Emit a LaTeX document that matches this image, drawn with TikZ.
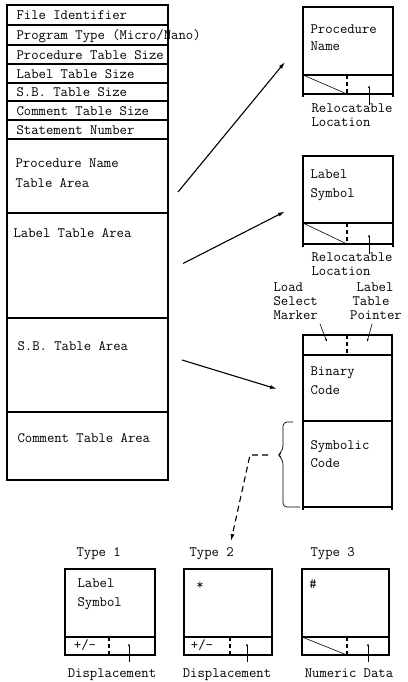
\documentclass[tikz,border=0pt]{standalone}
\usepackage{fontspec}
\usetikzlibrary{arrows.meta, calc, positioning}

\begin{document}
\begin{tikzpicture}[x=1pt, y=-1pt, line width=1.1pt, >={Latex[length=7pt,width=4pt]},
    cell/.style={draw, inner sep=0, outer sep=0, anchor=north west},
    row/.style={cell, minimum width=161pt},
    txt/.style={font=\ttfamily\fontsize{14.3}{16}\selectfont, inner sep=0, anchor=base west},
    ctxt/.style={txt, anchor=base},
    tickline/.style={dash pattern=on 4pt off 3pt},
    ptr/.style={line width=0.6pt, -{Latex[length=3pt,width=2pt]}}]

    \useasboundingbox (0,0) rectangle (407,682);

    % ================= left: file layout =================
    \node[row, minimum height=20pt] (fid) at (7,5) {};
    \node[row, minimum height=20pt, below=0pt of fid] (ptype) {};
    \node[row, minimum height=19pt, below=0pt of ptype] (pts) {};
    \node[row, minimum height=19pt, below=0pt of pts] (lts) {};
    \node[row, minimum height=18pt, below=0pt of lts] (sbts) {};
    \node[row, minimum height=19pt, below=0pt of sbts] (cts) {};
    \node[row, minimum height=19pt, below=0pt of cts] (stno) {};
    \node[row, minimum height=74pt, below=0pt of stno] (pnta) {};
    \node[row, minimum height=105pt, below=0pt of pnta] (lta) {};
    \node[row, minimum height=94pt, below=0pt of lta] (sbta) {};
    \node[row, minimum height=68pt, below=0pt of sbta] (cta) {};

    \node[txt] (fidtxt) at (16,20) {File Identifier};
    \node[txt] (ptypetxt) at (16,40) {Program Type (Micro/Nano)};
    \node[txt] (ptstxt) at (16,59.5) {Procedure Table Size};
    \node[txt] (ltstxt) at (16,78.5) {Label Table Size};
    \node[txt] (sbtstxt) at (16,97) {S.B. Table Size};
    \node[txt] (ctstxt) at (16,115.5) {Comment Table Size};
    \node[txt] (stnotxt) at (16,134.5) {Statement Number};
    \node[txt] (pntatxt) at (15,167) {Procedure Name};
    \node[txt] (pntatxtb) at (15,187) {Table Area};
    \node[txt] (ltatxt) at (13,237) {Label Table Area};
    \node[txt] (sbtatxt) at (17,350) {S.B. Table Area};
    \node[txt] (ctatxt) at (17,442) {Comment Table Area};

    % ================= procedure name entry =================
    \node[cell, minimum width=90pt, minimum height=68pt] (pname) at (303,7) {};
    \node[cell, minimum width=90pt, minimum height=19pt, below=0pt of pname] (pnloc) {};
    \draw[tickline] ([xshift=44pt]pnloc.north west) -- ([xshift=44pt]pnloc.south west);
    \draw[line width=0.6pt] (pnloc.north west) -- ([xshift=44pt]pnloc.south west);
    \draw[tickline] ([yshift=-3pt]pnloc.south west) -- ++(0,-16);
    \draw[tickline] ([yshift=-3pt]pnloc.south east) -- ++(0,-16);
    \draw[ptr] (369,105) -- (369,85);
    \node[txt] (pnametxt) at (310,34) {Procedure};
    \node[txt] (pnametxtb) at (310,51) {Name};
    \node[txt] (pnloctxt) at (311,113) {Relocatable};
    \node[txt] (pnloctxtb) at (311,127) {Location};

    % ================= label entry =================
    \node[cell, minimum width=90pt, minimum height=67pt] (lsym) at (303,156) {};
    \node[cell, minimum width=90pt, minimum height=21pt, below=0pt of lsym] (lloc) {};
    \draw[tickline] ([xshift=44pt]lloc.north west) -- ([xshift=44pt]lloc.south west);
    \draw[line width=0.6pt] (lloc.north west) -- ([xshift=44pt]lloc.south west);
    \draw[tickline] ([yshift=-3pt]lloc.south west) -- ++(0,-16);
    \draw[tickline] ([yshift=-3pt]lloc.south east) -- ++(0,-16);
    \draw[ptr] (369,254) -- (369,234);
    \node[txt] (lsymtxt) at (310,178) {Label};
    \node[txt] (lsymtxtb) at (310,197) {Symbol};
    \node[txt] (lloctxt) at (311,261) {Relocatable};
    \node[txt] (lloctxtb) at (311,275) {Location};

    % ================= S.B. entry =================
    \node[cell, minimum width=89pt, minimum height=20pt] (sbhead) at (303,335) {};
    \node[cell, minimum width=89pt, minimum height=66pt, below=0pt of sbhead] (sbbin) {};
    \node[cell, minimum width=89pt, minimum height=86pt, below=0pt of sbbin] (sbsym) {};
    \draw[tickline] ([xshift=44pt]sbhead.north west) -- ([xshift=44pt]sbhead.south west);
    \draw[tickline] ([yshift=-3pt]sbsym.south west) -- ++(0,-16);
    \draw[tickline] ([yshift=-3pt]sbsym.south east) -- ++(0,-16);
    \node[txt] (lsmtxt) at (273,291) {Load};
    \node[txt] (lsmtxtb) at (273,305) {Select};
    \node[txt] (lsmtxtc) at (273,319) {Marker};
    \node[ctxt] (ltptxt) at (375,291) {Label};
    \node[ctxt] (ltptxtb) at (371,305) {Table};
    \node[ctxt] (ltptxtc) at (376,319) {Pointer};
    \draw[ptr] (320,324) -- (327,342);
    \draw[ptr] (372,324) -- (367,342);
    \node[txt] (sbbintxt) at (310,375) {Binary};
    \node[txt] (sbbintxtb) at (310,394) {Code};
    \node[txt] (sbsymtxt) at (310,449) {Symbolic};
    \node[txt] (sbsymtxtb) at (310,467) {Code};

    % brace on symbolic code
    \draw[line width=0.7pt, rounded corners=4pt] (293,422) -- (283,422) -- (283,450) -- (278,455)
        -- (283,460) -- (283,507) -- (300,507);
    \coordinate (brtip) at (278,455);

    % ================= symbolic code types =================
    \node[txt] (t1lbl) at (76,556) {Type 1};
    \node[txt] (t2lbl) at (189,556) {Type 2};
    \node[txt] (t3lbl) at (310,556) {Type 3};
    \coordinate (t2end) at (231,541);

    % type 1
    \node[cell, minimum width=90pt, minimum height=68pt] (t1sym) at (65,569) {};
    \node[cell, minimum width=90pt, minimum height=18pt, below=0pt of t1sym] (t1disp) {};
    \draw[tickline] ([xshift=44pt]t1disp.north west) -- ([xshift=44pt]t1disp.south west);
    \node[ctxt] (t1sign) at (85,649) {+/-};
    \draw[ptr] (129,662) -- (129,643);
    \node[txt] (t1txt) at (77,587) {Label};
    \node[txt] (t1txtb) at (77,606) {Symbol};
    \node[ctxt] (t1disptxt) at (112,677) {Displacement};

    % type 2
    \node[cell, minimum width=88pt, minimum height=68pt] (t2sym) at (184,569) {};
    \node[cell, minimum width=88pt, minimum height=18pt, below=0pt of t2sym] (t2disp) {};
    \draw[tickline] ([xshift=46pt]t2disp.north west) -- ([xshift=46pt]t2disp.south west);
    \node[ctxt] (t2sign) at (202,649) {+/-};
    \node[ctxt] (t2star) at (200,589) {*};
    \draw[ptr] (247,662) -- (247,643);
    \node[ctxt] (t2disptxt) at (227,677) {Displacement};

    % type 3
    \node[cell, minimum width=87pt, minimum height=68pt] (t3sym) at (302,569) {};
    \node[cell, minimum width=87pt, minimum height=18pt, below=0pt of t3sym] (t3data) {};
    \draw[tickline] ([xshift=45pt]t3data.north west) -- ([xshift=45pt]t3data.south west);
    \draw[line width=0.6pt] (t3data.north west) -- ([xshift=45pt]t3data.south west);
    \node[ctxt] (t3hash) at (313,588) {\#};
    \draw[ptr] (368,662) -- (368,643);
    \node[ctxt] (t3datatxt) at (349,677) {Numeric Data};

    % ================= arrows =================
    \draw[->] ([shift={(10,16)}]pnta.east) -- ([shift={(-18,21)}]pname.west);
    \draw[->] ([shift={(15,-2)}]lta.east) -- ([shift={(-18,22)}]lsym.west);
    \draw[->] ([shift={(14,-5)}]sbta.east) -- ([shift={(-26,1)}]sbbin.west);
    \draw[->, dash pattern=on 6pt off 4pt] ([xshift=-10pt]brtip) -- ++(-18,0) -- (t2end);

\end{tikzpicture}
\end{document}
